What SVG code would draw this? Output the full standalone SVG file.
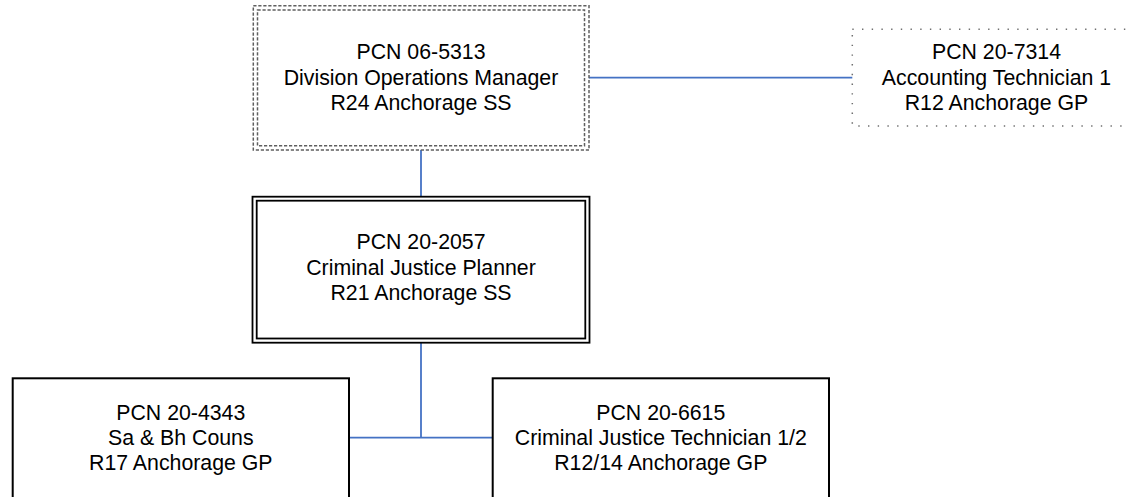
<svg xmlns="http://www.w3.org/2000/svg" width="1129" height="497" viewBox="0 0 1129 497">
  <style>
    .lbl { font-family: "Liberation Sans", Arial, sans-serif; font-size: 21.3px; fill: #000; text-anchor: middle; }
    .dash { fill: none; stroke: #5f5f5f; stroke-width: 1.5; stroke-dasharray: 3.2 1.8; }
    .dot { fill: none; stroke: #6f6f6f; stroke-width: 1.5; stroke-dasharray: 1.4 8.3; }
    .solid { fill: none; stroke: #000; stroke-width: 2; }
    .dbl { fill: none; stroke: #000; stroke-width: 1.8; }
    .conn { fill: none; stroke: #4472C4; stroke-width: 1.8; }
  </style>
  <rect width="1129" height="497" fill="#fff"/>
  <g id="connectors">
    <line class="conn" x1="589" y1="77.7" x2="852.3" y2="77.7"/>
    <line class="conn" x1="421" y1="150" x2="421" y2="196.7"/>
    <line class="conn" x1="421" y1="342.5" x2="421" y2="437.7"/>
    <line class="conn" x1="349" y1="437.7" x2="492.7" y2="437.7"/>
  </g>
  <g id="node-06-5313">
    <rect class="dash" x="253.3" y="5.7" width="335.7" height="144.3"/>
    <rect class="dash" x="257.5" y="10" width="327" height="135.7"/>
    <text class="lbl" x="421" y="59.3">PCN 06-5313</text>
    <text class="lbl" x="421" y="84.7">Division Operations Manager</text>
    <text class="lbl" x="421" y="110">R24 Anchorage SS</text>
  </g>
  <g id="node-20-7314">
    <rect class="dot" x="852.3" y="29.3" width="290" height="96.7"/>
    <text class="lbl" x="996.5" y="59.3">PCN 20-7314</text>
    <text class="lbl" x="996.5" y="84.5">Accounting Technician 1</text>
    <text class="lbl" x="996.5" y="110">R12 Anchorage GP</text>
  </g>
  <g id="node-20-2057">
    <rect class="dbl" x="252.5" y="196.7" width="337" height="146"/>
    <rect class="dbl" x="256.7" y="200.7" width="328.6" height="137.8"/>
    <text class="lbl" x="421" y="249.3">PCN 20-2057</text>
    <text class="lbl" x="421" y="274.7">Criminal Justice Planner</text>
    <text class="lbl" x="421" y="300">R21 Anchorage SS</text>
  </g>
  <g id="node-20-4343">
    <rect class="solid" x="12.7" y="378.3" width="336.3" height="140"/>
    <text class="lbl" x="180.8" y="420">PCN 20-4343</text>
    <text class="lbl" x="180.8" y="445">Sa &amp; Bh Couns</text>
    <text class="lbl" x="180.8" y="470">R17 Anchorage GP</text>
  </g>
  <g id="node-20-6615">
    <rect class="solid" x="492.7" y="378.3" width="336.3" height="140"/>
    <text class="lbl" x="660.8" y="420">PCN 20-6615</text>
    <text class="lbl" x="660.8" y="445">Criminal Justice Technician 1/2</text>
    <text class="lbl" x="660.8" y="470">R12/14 Anchorage GP</text>
  </g>
</svg>
